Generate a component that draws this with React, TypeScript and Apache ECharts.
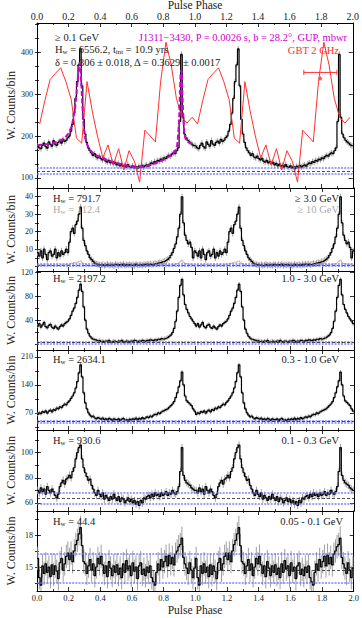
import React, { useEffect, useRef } from "react";
import * as echarts from "echarts";

const FONT = "'Liberation Serif', 'DejaVu Serif', serif";

// ---- data (one pulse cycle, 100 bins of 0.01; shown twice) ----
const countsAbove100MeV = [
  176, 172, 170, 178, 183, 175, 171, 186, 180, 176,
  189, 181, 178, 185, 188, 183, 192, 187, 190, 196,
  200, 212, 228, 255, 290, 330, 370, 408, 320, 240,
  205, 185, 172, 165, 160, 154, 158, 150, 148, 152,
  146, 143, 147, 140, 138, 142, 136, 139, 134, 137,
  131, 135, 129, 133, 128, 130, 126, 132, 127, 125,
  129, 124, 127, 122, 128, 125, 130, 126, 129, 131,
  128, 133, 136, 134, 139, 137, 142, 140, 145, 143,
  148, 146, 151, 154, 152, 157, 160, 158, 165, 172,
  235, 395, 245, 205, 196, 190, 186, 183, 179, 177,
];
const countsAbove3GeV = [
  8, 6, 9, 5, 10, 7, 4, 8, 9, 6,
  7, 10, 5, 8, 6, 9, 7, 8, 10, 8,
  14, 20, 22, 19, 24, 26, 30, 34, 22, 15,
  12, 9, 7, 5, 4, 3, 2, 1.5, 1.2, 1.0,
  0.8, 1.2, 0.6, 1.0, 1.4, 0.7, 1.1, 0.9, 0.5, 1.3,
  1.0, 0.7, 1.2, 0.8, 1.5, 0.6, 1.1, 0.9, 1.3, 0.8,
  1.1, 0.6, 1.4, 0.9, 1.0, 1.2, 0.7, 1.3, 1.0, 1.5,
  1.2, 1.6, 1.1, 1.4, 1.8, 1.5, 2.0, 2.4, 2.2, 2.8,
  3.0, 3.5, 4.2, 5.0, 6.5, 8.0, 10.5, 13, 17, 22,
  30, 40, 25, 18, 15, 13, 14, 11, 5, 9,
];
const countsAbove10GeV = [
  0.8, 1.2, 0.5, 1.0, 1.4, 0.7, 1.1, 0.9, 1.3, 0.6,
  1.0, 0.8, 1.2, 0.6, 0.9, 1.3, 0.7, 1.1, 1.4, 1.2,
  1.6, 2.0, 1.8, 2.3, 2.6, 2.4, 3.0, 3.4, 2.2, 1.6,
  1.2, 0.9, 0.7, 0.5, 0.8, 0.4, 0.6, 0.9, 0.3, 0.7,
  0.5, 0.8, 0.4, 0.6, 0.3, 0.7, 0.5, 0.8, 0.4, 0.6,
  0.9, 0.5, 0.7, 0.4, 0.8, 0.6, 0.3, 0.7, 0.5, 0.6,
  0.4, 0.7, 0.5, 0.8, 0.6, 0.4, 0.7, 0.5, 0.9, 0.6,
  0.5, 0.8, 0.6, 0.9, 0.7, 0.5, 0.8, 0.6, 1.0, 0.8,
  0.9, 0.7, 1.1, 0.8, 1.0, 1.2, 1.4, 1.6, 2.0, 2.4,
  3.0, 3.8, 2.4, 1.8, 1.5, 1.3, 1.4, 1.1, 0.8, 1.0,
];
const counts1to3GeV = [
  30, 34, 28, 32, 36, 29, 27, 31, 33, 28,
  26, 30, 27, 25, 29, 32, 30, 34, 36, 38,
  42, 48, 55, 60, 68, 78, 90, 100, 88, 62,
  40, 25, 18, 13, 10, 8, 7, 6, 5, 6,
  4, 5, 3, 5, 4, 6, 3, 4, 5, 4,
  3, 5, 4, 6, 4, 3, 5, 4, 3, 5,
  4, 6, 5, 3, 5, 4, 6, 5, 4, 6,
  5, 7, 6, 5, 7, 6, 8, 7, 9, 8,
  9, 10, 11, 13, 15, 19, 26, 38, 55, 78,
  98, 108, 82, 66, 58, 52, 46, 42, 38, 34,
];
const counts03to1GeV = [
  66, 70, 68, 73, 71, 75, 69, 74, 77, 72,
  78, 76, 82, 80, 85, 83, 88, 92, 90, 96,
  100, 106, 112, 120, 132, 148, 170, 190, 160, 120,
  95, 80, 70, 64, 60, 62, 57, 55, 58, 56,
  54, 57, 53, 55, 52, 56, 54, 51, 55, 53,
  52, 55, 51, 54, 56, 52, 53, 50, 54, 52,
  55, 53, 57, 52, 56, 54, 58, 55, 57, 60,
  58, 62, 60, 64, 66, 65, 70, 68, 72, 74,
  76, 78, 80, 84, 88, 92, 98, 108, 120, 135,
  150, 172, 140, 112, 100, 96, 92, 88, 80, 74,
];
const counts01to03GeV = [
  70, 68, 72, 69, 71, 67, 73, 70, 68, 71,
  69, 66, 64, 67, 73, 76, 78, 75, 79, 80,
  82, 80, 85, 88, 95, 100, 104, 106, 95, 88,
  84, 81, 78, 79, 74, 71, 68, 66, 70, 67,
  65, 68, 63, 66, 64, 62, 65, 63, 67, 64,
  62, 65, 61, 64, 63, 60, 62, 64, 61, 63,
  60, 62, 59, 61, 58, 62, 60, 64, 63, 65,
  66, 64, 67, 65, 68, 66, 67, 65, 68, 66,
  67, 69, 66, 68, 67, 70, 68, 67, 69, 73,
  85, 104, 82, 78, 76, 75, 74, 72, 71, 70,
];
const counts005to01GeV = [
  15.8, 14.0, 13.3, 15.1, 14.4, 15.3, 14.5, 15.0, 14.1, 15.2,
  14.3, 15.1, 14.6, 13.9, 15.4, 15.8, 14.7, 15.3, 16.0, 16.3,
  15.7, 16.3, 15.5, 16.5, 17.1, 17.5, 18.1, 18.7, 17.0, 15.5,
  15.3, 14.4, 15.1, 15.7, 14.7, 15.3, 14.2, 15.0, 15.8, 15.3,
  16.0, 15.2, 14.4, 15.1, 14.1, 15.5, 14.9, 14.2, 15.1, 14.5,
  15.2, 14.3, 14.9, 14.0, 15.3, 14.5, 15.6, 14.8, 15.1, 14.2,
  15.4, 14.6, 15.0, 13.9, 15.1, 15.4, 14.3, 14.8, 14.2, 15.0,
  14.5, 15.1, 14.0, 13.6, 13.3, 14.5, 15.3, 14.7, 15.7, 15.0,
  15.5, 16.0, 15.1, 16.1, 15.3, 15.9, 15.2, 16.2, 16.5, 16.9,
  17.1, 17.7, 15.9, 15.3, 14.9, 14.4, 15.4, 14.7, 14.0, 14.9,
];

// typical 1-sigma error per panel
const panelErrors = [7, 1.8, 3.5, 5, 3, 1.1];

// background levels [upper, mean, lower]
const bgLevels = [
  [124, 117, 110],
  [1.6, 1.0, 0.4],
  [3.5, 2.2, 1.0],
  [50, 48, 46],
  [68, 63.5, 59],
  [16.2, 14.7, 13.5],
];

// radio profile GBT 2 GHz (one cycle), scaled to panel 1 units
const radioPhase = [0.017, 0.05, 0.083, 0.117, 0.15, 0.183, 0.217, 0.25, 0.283, 0.317, 0.35, 0.383, 0.417, 0.45, 0.483, 0.517, 0.55, 0.583, 0.617, 0.65, 0.683, 0.717, 0.75, 0.783, 0.817, 0.85, 0.883, 0.917, 0.95, 0.983];
const radioFlux = [229, 285, 335, 350, 363, 330, 287, 195, 183, 330, 260, 200, 148, 179, 131, 170, 119, 165, 140, 90, 214, 200, 186, 330, 424, 370, 290, 245, 231, 245];

// model fit (magenta, first cycle)
const fitPhase = [0, 0.05, 0.1, 0.15, 0.18, 0.2, 0.22, 0.24, 0.25, 0.26, 0.27, 0.28, 0.29, 0.3, 0.31, 0.33, 0.36, 0.4, 0.45, 0.5, 0.55, 0.6, 0.65, 0.7, 0.75, 0.8, 0.85, 0.88, 0.89, 0.9, 0.905, 0.91, 0.915, 0.92, 0.93, 0.94, 0.96, 0.98, 1.0];
const fitCounts = [178, 180, 183, 190, 198, 207, 225, 265, 300, 345, 375, 330, 255, 210, 188, 170, 158, 150, 142, 136, 131, 128, 127, 129, 135, 143, 155, 168, 185, 240, 300, 350, 358, 310, 225, 195, 185, 182, 180];

// radio-gamma lag point
const lagPoint = { phase: 1.795, lo: 1.69, hi: 1.9, barLevel: 352, markLevel: 338 };

// y ticks per panel
const yMajorTicks = [[100, 200, 300, 400], [10, 20, 30, 40], [40, 80, 120], [70, 140, 210], [60, 80, 100], [15, 18]];
const yMinorStep = [100 / 3, 5, 20, 35, 10, 1.5];

// ---- layout ----
const panelTop = [23, 188, 271, 350, 430, 511];
const panelHeight = [165, 83, 79, 80, 81, 80];
const yMin = [76, -2.5, -10, 27, 53.6, 12.75];
const yMax = [470, 45, 122, 227, 118, 20.25];

function twoCycles(v: number[]) {
  return [...v, ...v];
}
function stepData(v: number[]) {
  const all = twoCycles(v);
  const n = all.length;
  const pts: number[][] = all.map((y, j) => [(2 * j) / n, y]);
  pts.push([2, all[n - 1]]);
  return pts;
}
function errData(v: number[], e: number) {
  const all = twoCycles(v);
  const n = all.length;
  return all.map((y, j) => [(2 * j + 1) / n, y - e, y + e]);
}
function minorTicks(i: number) {
  const out: number[] = [];
  const step = yMinorStep[i];
  const start = yMajorTicks[i][0];
  for (let k = -40; k < 80; k++) {
    const v = start + k * step;
    if (v > yMin[i] && v < yMax[i]) out.push(+v.toFixed(4));
  }
  return out;
}

const panelSeries = [countsAbove100MeV, countsAbove3GeV, counts1to3GeV, counts03to1GeV, counts01to03GeV, counts005to01GeV];

function buildOption() {
  const grid: any[] = [];
  const xAxis: any[] = [];
  const yAxis: any[] = [];
  const series: any[] = [];
  const blueLine = { color: "#6a6aff", width: 1.6, type: [2, 1.2], opacity: 0.85 };
  const blackLine = { color: "#222", width: 0.8, type: [3, 2] };

  for (let i = 0; i < 6; i++) {
    grid.push({ left: 37, right: 8, top: panelTop[i], height: panelHeight[i] });
    const xBase = {
      type: "value",
      gridIndex: i,
      min: 0,
      max: 2,
      interval: 0.2,
      splitLine: { show: false },
      axisLine: { show: true, onZero: false, lineStyle: { color: "#000", width: 1 } },
      axisTick: { show: true, inside: true, length: 4, lineStyle: { color: "#000", width: 0.8 } },
      minorTick: { show: true, splitNumber: 2, length: 2, lineStyle: { color: "#000", width: 0.8 } },
    };
    xAxis.push({
      ...xBase,
      position: "bottom",
      axisLabel: { show: i === 5, fontFamily: FONT, fontSize: 8.5, color: "#222", margin: 2, formatter: (v: number) => v.toFixed(1) },
    });
    xAxis.push({
      ...xBase,
      position: "top",
      axisLabel: { show: i === 0, fontFamily: FONT, fontSize: 10, color: "#222", margin: 2, formatter: (v: number) => v.toFixed(1) },
    });
    const yBase = {
      type: "value",
      gridIndex: i,
      min: yMin[i],
      max: yMax[i],
      splitLine: { show: false },
      axisLine: { show: true, onZero: false, lineStyle: { color: "#000", width: 1 } },
    };
    const majors = yMajorTicks[i];
    const minors = minorTicks(i);
    yAxis.push({
      ...yBase,
      position: "left",
      axisTick: { show: true, inside: true, length: 4, customValues: majors, lineStyle: { color: "#000", width: 0.8 } },
      axisLabel: { show: true, customValues: majors, fontFamily: FONT, fontSize: 8, color: "#222", margin: 4 },
    });
    yAxis.push({
      ...yBase,
      position: "left",
      axisLine: { show: false },
      axisTick: { show: true, inside: true, length: 2, customValues: minors, lineStyle: { color: "#000", width: 0.8 } },
      axisLabel: { show: false },
    });
    yAxis.push({
      ...yBase,
      position: "right",
      axisTick: { show: true, inside: true, length: 4, customValues: majors, lineStyle: { color: "#000", width: 0.8 } },
      axisLabel: { show: false },
    });
    yAxis.push({
      ...yBase,
      position: "right",
      axisLine: { show: false },
      axisTick: { show: true, inside: true, length: 2, customValues: minors, lineStyle: { color: "#000", width: 0.8 } },
      axisLabel: { show: false },
    });

    const xi = 2 * i;
    const yi = 4 * i;
    const lv = bgLevels[i];

    if (i === 1) {
      series.push({
        type: "line",
        xAxisIndex: xi,
        yAxisIndex: yi,
        data: stepData(countsAbove10GeV),
        step: "end",
        symbol: "none",
        lineStyle: { color: "#b8b8b8", width: 1 },
        z: 1,
      });
    }

    series.push({
      type: "custom",
      xAxisIndex: xi,
      yAxisIndex: yi,
      data: errData(panelSeries[i], panelErrors[i]),
      clip: true,
      z: 2,
      renderItem: (params: any, api: any) => {
        const x = api.value(0);
        const a = api.coord([x, api.value(1)]);
        const b = api.coord([x, api.value(2)]);
        return {
          type: "line",
          shape: { x1: a[0], y1: a[1], x2: b[0], y2: b[1] },
          style: { stroke: "#a0a0a0", lineWidth: 1 },
        };
      },
    });
    series.push({
      type: "line",
      xAxisIndex: xi,
      yAxisIndex: yi,
      data: stepData(panelSeries[i]),
      step: "end",
      symbol: "none",
      lineStyle: { color: "#000", width: 1.2 },
      z: 3,
      markLine: {
        silent: true,
        symbol: "none",
        label: { show: false },
        animation: false,
        data: [
          { yAxis: lv[0], lineStyle: blueLine },
          { yAxis: lv[1], lineStyle: blackLine },
          { yAxis: lv[2], lineStyle: blueLine },
        ],
      },
    });

    if (i === 0) {
      series.push({
        type: "line",
        xAxisIndex: xi,
        yAxisIndex: yi,
        data: twoCycles(radioFlux).map((y, j) => [radioPhase[j % radioPhase.length] + (j >= radioPhase.length ? 1 : 0), y]),
        symbol: "none",
        lineStyle: { color: "#ff3030", width: 1 },
        z: 4,
      });
      series.push({
        type: "line",
        xAxisIndex: xi,
        yAxisIndex: yi,
        data: fitPhase.map((p, j) => [p, fitCounts[j]]),
        symbol: "none",
        smooth: 0.3,
        lineStyle: { color: "#d000d0", width: 2, type: [5, 2.5] },
        z: 5,
      });
      series.push({
        type: "custom",
        xAxisIndex: xi,
        yAxisIndex: yi,
        data: [[lagPoint.lo, lagPoint.hi, lagPoint.barLevel]],
        z: 6,
        renderItem: (params: any, api: any) => {
          const a = api.coord([api.value(0), api.value(2)]);
          const b = api.coord([api.value(1), api.value(2)]);
          const st = { stroke: "#ff3030", lineWidth: 1 };
          return {
            type: "group",
            children: [
              { type: "line", shape: { x1: a[0], y1: a[1], x2: b[0], y2: b[1] }, style: st },
              { type: "line", shape: { x1: a[0], y1: a[1] - 2.5, x2: a[0], y2: a[1] + 2.5 }, style: st },
              { type: "line", shape: { x1: b[0], y1: b[1] - 2.5, x2: b[0], y2: b[1] + 2.5 }, style: st },
            ],
          };
        },
      });
      series.push({
        type: "scatter",
        xAxisIndex: xi,
        yAxisIndex: yi,
        data: [[lagPoint.phase, lagPoint.markLevel]],
        symbol: "path://M0,-10 L2.9,-4 L9.5,-3.1 L4.8,1.5 L5.9,8.1 L0,5 L-5.9,8.1 L-4.8,1.5 L-9.5,-3.1 L-2.9,-4 Z",
        symbolSize: 5,
        itemStyle: { color: "#ff3030" },
        z: 6,
      });
    }
  }

  const SZ = 10.5;
  const txt = (x: number, y: number, text: string, color = "#222", align = "left") => ({
    type: "text",
    x,
    y,
    style: {
      text,
      fill: color,
      font: `${SZ}px ${FONT}`,
      fontSize: SZ,
      fontFamily: FONT,
      lineHeight: 13,
      align,
      verticalAlign: "middle",
      rich: { s: { fontSize: 7, verticalAlign: "bottom", lineHeight: 8, fontFamily: FONT, fill: color } },
    },
    z: 100,
  });

  const graphic: any[] = [
    txt(55, 37, "≥ 0.1 GeV"),
    txt(55, 49, "H{s|w} = 6556.2, t{s|int} = 10.9 yrs"),
    txt(55, 62, "δ = 0.306 ± 0.018, Δ = 0.3629 ± 0.0017"),
    txt(347, 37, "J1311−3430, P = 0.0026 s, b = 28.2°, GUP, mbwr", "#d000d0", "right"),
    txt(339, 50, "GBT 2 GHz", "#ff3030", "right"),
    txt(53, 198, "H{s|w} = 791.7"),
    txt(53, 209, "H{s|w} = 112.4", "#aaaaaa"),
    txt(339, 198, "≥ 3.0 GeV", "#222", "right"),
    txt(339, 209, "≥ 10 GeV", "#aaaaaa", "right"),
    txt(53, 278, "H{s|w} = 2197.2"),
    txt(339, 278, "1.0 - 3.0 GeV", "#222", "right"),
    txt(53, 359, "H{s|w} = 2634.1"),
    txt(339, 359, "0.3 - 1.0 GeV", "#222", "right"),
    txt(53, 440, "H{s|w} = 930.6"),
    txt(339, 440, "0.1 - 0.3 GeV", "#222", "right"),
    txt(53, 521, "H{s|w} = 44.4"),
    txt(343, 521, "0.05 - 0.1 GeV", "#222", "right"),
    {
      type: "text",
      x: 195,
      y: 5,
      style: { text: "Pulse Phase", fill: "#222", font: `11.5px ${FONT}`, align: "center", verticalAlign: "middle" },
    },
    {
      type: "text",
      x: 195,
      y: 610,
      style: { text: "Pulse Phase", fill: "#222", font: `11.5px ${FONT}`, align: "center", verticalAlign: "middle" },
    },
  ];
  for (let i = 0; i < 6; i++) {
    graphic.push({
      type: "text",
      x: 11,
      y: panelTop[i] + panelHeight[i] / 2,
      rotation: Math.PI / 2,
      style: { text: "W. Counts/bin", fill: "#222", font: `12px ${FONT}`, align: "center", verticalAlign: "middle" },
    });
  }

  return {
    animation: false,
    backgroundColor: "#fff",
    grid,
    xAxis,
    yAxis,
    series,
    graphic,
  };
}

export default function App() {
  const ref = useRef<HTMLDivElement>(null);
  useEffect(() => {
    const chart = echarts.init(ref.current!, null, { renderer: "svg" });
    chart.setOption(buildOption() as any);
    return () => chart.dispose();
  }, []);
  return <div ref={ref} style={{ position: "fixed", left: 0, top: 0, width: 362, height: 618 }} />;
}
